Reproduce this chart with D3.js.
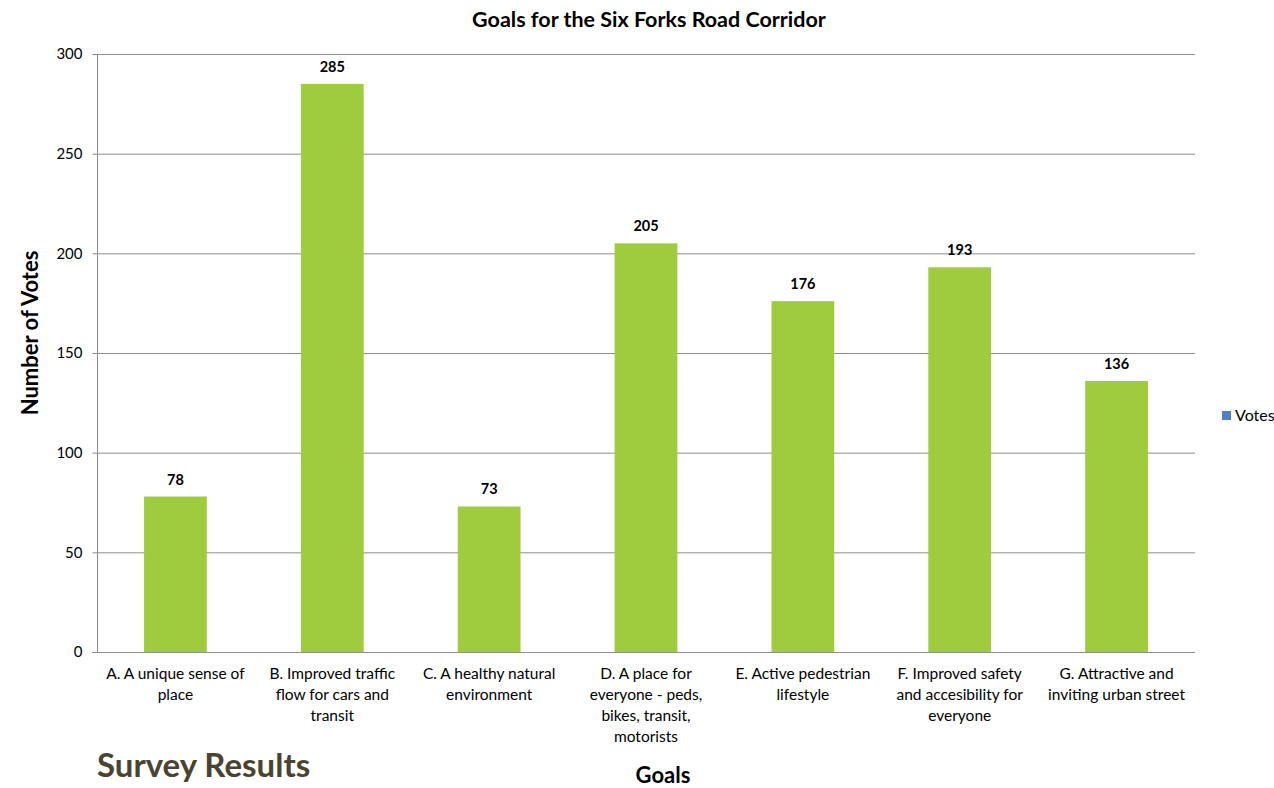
<!DOCTYPE html>
<html>
<head>
<meta charset="utf-8">
<script src="https://cdn.jsdelivr.net/npm/d3@7"></script>
<style>
  html, body { margin: 0; padding: 0; background: #fff; }
  svg { display: block; font-family: "Lato", "Open Sans", sans-serif; }
</style>
</head>
<body>
<svg id="chart" width="1274" height="788"></svg>
<script>
const categories = [
  ["A. A unique sense of", "place"],
  ["B. Improved traffic", "flow for cars and", "transit"],
  ["C. A healthy natural", "environment"],
  ["D. A place for", "everyone - peds,", "bikes, transit,", "motorists"],
  ["E. Active pedestrian", "lifestyle"],
  ["F. Improved safety", "and accesibility for", "everyone"],
  ["G. Attractive and", "inviting urban street"]
];
const votes = [78, 285, 73, 205, 176, 193, 136];
const yTicks = [0, 50, 100, 150, 200, 250, 300];
const title = "Goals for the Six Forks Road Corridor";
const yTitle = "Number of Votes";
const xTitle = "Goals";
const seriesName = "Votes";
const footer = "Survey Results";

const svg = d3.select("#chart");
const m = {left: 97, right: 1195, top: 54, bottom: 652};

const x = d3.scaleBand()
  .domain(d3.range(categories.length))
  .range([m.left, m.right])
  .paddingInner(0.6).paddingOuter(0.3);
const y = d3.scaleLinear().domain([0, 300]).range([m.bottom, m.top]);

// gridlines
svg.append("g").selectAll("line").data(yTicks.filter(d => d > 0)).join("line")
  .attr("x1", m.left).attr("x2", m.right)
  .attr("y1", d => y(d) + 0.5).attr("y2", d => y(d) + 0.5)
  .attr("stroke", "#8c8c8c").attr("stroke-width", 1);

// y axis
const yAxis = svg.append("g").attr("transform", `translate(${m.left + 0.5},0)`)
  .call(d3.axisLeft(y).tickValues(yTicks).tickSize(5).tickPadding(10).tickFormat(d3.format("d")));
yAxis.select(".domain").attr("stroke", "#8c8c8c").attr("d", `M0,${m.top}V${m.bottom}`);
yAxis.selectAll(".tick line").attr("stroke", "#8c8c8c");
yAxis.selectAll(".tick text").attr("font-size", 15).attr("fill", "#000")
  .attr("font-family", "Lato, 'Open Sans', sans-serif");

// bars
svg.append("g").selectAll("rect").data(votes).join("rect")
  .attr("x", (d, i) => x(i)).attr("width", x.bandwidth())
  .attr("y", d => y(d)).attr("height", d => y(0) - y(d))
  .attr("fill", "#9fcb3f");

// x axis line
svg.append("line").attr("x1", m.left - 5).attr("x2", m.right)
  .attr("y1", m.bottom + 0.5).attr("y2", m.bottom + 0.5)
  .attr("stroke", "#8c8c8c");

// value labels
svg.append("g").selectAll("text").data(votes).join("text")
  .attr("x", (d, i) => x(i) + x.bandwidth() / 2)
  .attr("y", d => y(d) - 12)
  .attr("text-anchor", "middle").attr("font-size", 14.5).attr("font-weight", "bold")
  .text(d => d);

// category labels
const cat = svg.append("g").selectAll("text").data(categories).join("text")
  .attr("text-anchor", "middle").attr("font-size", 15.5).attr("fill", "#000");
cat.each(function(lines, i) {
  const cx = x(i) + x.bandwidth() / 2;
  d3.select(this).selectAll("tspan").data(lines).join("tspan")
    .attr("x", cx).attr("y", (d, j) => m.bottom + 27 + j * 21)
    .text(d => d);
});

// title
svg.append("text").attr("x", 649).attr("y", 27).attr("text-anchor", "middle")
  .attr("font-size", 21.5).attr("font-weight", "bold").text(title);

// y title
svg.append("text").attr("transform", "translate(38,333) rotate(-90)")
  .attr("text-anchor", "middle").attr("font-size", 22).attr("font-weight", "bold").text(yTitle);

// x title
svg.append("text").attr("x", 663).attr("y", 783).attr("text-anchor", "middle")
  .attr("font-size", 22).attr("font-weight", "bold").text(xTitle);

// legend
svg.append("rect").attr("x", 1222).attr("y", 411).attr("width", 9).attr("height", 9).attr("fill", "#4f81bd");
svg.append("text").attr("x", 1235).attr("y", 421).attr("font-size", 16).text(seriesName);

// footer
svg.append("text").attr("x", 97).attr("y", 777).attr("font-size", 33).attr("font-weight", "bold")
  .attr("fill", "#4a4330").text(footer);
</script>
</body>
</html>
